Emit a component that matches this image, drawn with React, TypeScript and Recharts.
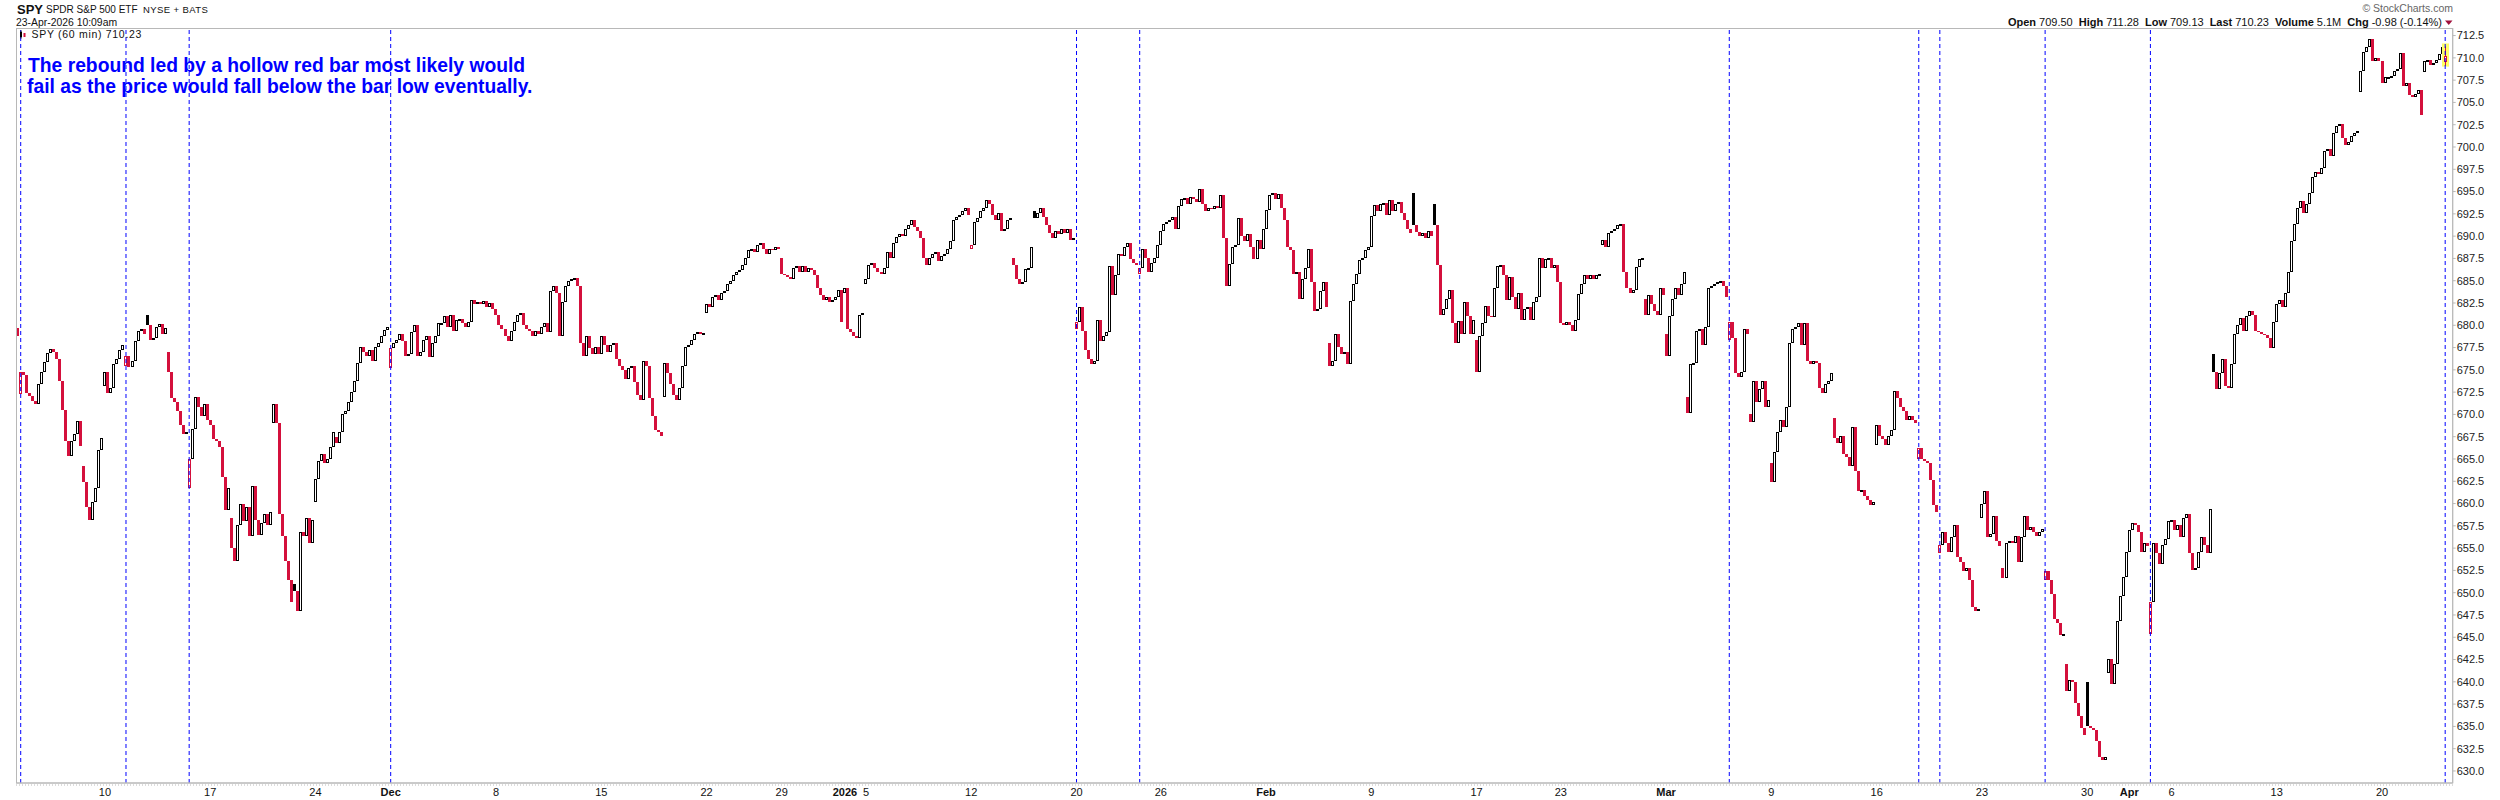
import React from "react";
import { Bar, ComposedChart, ReferenceLine, XAxis, YAxis } from "recharts";

// SPY 60-minute candles. One row per session.
// An open of null means the session opened at the prior close.
const sessionDates = [
  "2025-11-03", "2025-11-04", "2025-11-05", "2025-11-06", "2025-11-07",
  "2025-11-10", "2025-11-11", "2025-11-12", "2025-11-13", "2025-11-14",
  "2025-11-17", "2025-11-18", "2025-11-19", "2025-11-20", "2025-11-21",
  "2025-11-24", "2025-11-25", "2025-11-26", "2025-11-28",
  "2025-12-01", "2025-12-02", "2025-12-03", "2025-12-04", "2025-12-05",
  "2025-12-08", "2025-12-09", "2025-12-10", "2025-12-11", "2025-12-12",
  "2025-12-15", "2025-12-16", "2025-12-17", "2025-12-18", "2025-12-19",
  "2025-12-22", "2025-12-23", "2025-12-24", "2025-12-26",
  "2025-12-29", "2025-12-30", "2025-12-31", "2026-01-02",
  "2026-01-05", "2026-01-06", "2026-01-07", "2026-01-08", "2026-01-09",
  "2026-01-12", "2026-01-13", "2026-01-14", "2026-01-15", "2026-01-16",
  "2026-01-20", "2026-01-21", "2026-01-22", "2026-01-23",
  "2026-01-26", "2026-01-27", "2026-01-28", "2026-01-29", "2026-01-30",
  "2026-02-02", "2026-02-03", "2026-02-04", "2026-02-05", "2026-02-06",
  "2026-02-09", "2026-02-10", "2026-02-11", "2026-02-12", "2026-02-13",
  "2026-02-17", "2026-02-18", "2026-02-19", "2026-02-20",
  "2026-02-23", "2026-02-24", "2026-02-25", "2026-02-26", "2026-02-27",
  "2026-03-02", "2026-03-03", "2026-03-04", "2026-03-05", "2026-03-06",
  "2026-03-09", "2026-03-10", "2026-03-11", "2026-03-12", "2026-03-13",
  "2026-03-16", "2026-03-17", "2026-03-18", "2026-03-19", "2026-03-20",
  "2026-03-23", "2026-03-24", "2026-03-25", "2026-03-26", "2026-03-27",
  "2026-03-30", "2026-03-31", "2026-04-01", "2026-04-02",
  "2026-04-06", "2026-04-07", "2026-04-08", "2026-04-09", "2026-04-10",
  "2026-04-13", "2026-04-14", "2026-04-15", "2026-04-16", "2026-04-17",
  "2026-04-20", "2026-04-21", "2026-04-22", "2026-04-23",
];

const sessionOpens: (number | null)[] = [
  679.7, 672.3, null, null, 664.2,
  673.2, 675.4, 681.2, 677.0, 661.8,
  null, 658.4, null, 669.0, 651.0,
  660.2, 667.5, null, null,
  675.2, null, null, null, null,
  null, null, null, null, null,
  null, null, null, 672.0, null,
  681.4, null, null, null,
  687.6, null, null, 683.6,
  684.6, null, null, null, null,
  688.6, null, 687.6, 692.8, null,
  679.6, null, null, 685.8,
  null, null, null, null, null,
  null, null, null, 678.0, null,
  null, null, 694.8, 693.6, null,
  678.4, null, null, null,
  null, null, 689.0, null, 683.0,
  679.0, 672.0, null, 678.4, 670.0,
  664.6, null, null, 669.6, null,
  666.6, null, 665.0, 654.4, null,
  658.4, 652.8, null, 651.4, 642.0,
  640.0, 641.0, null, 645.4,
  null, null, 676.8, null, null,
  null, null, null, null, 706.2,
  null, null, 708.4, 709.5,
];

const hourlyCloses: number[][] = [
  [678.8],
  [674.8, 674.4, 672.4, 672.1, 671.5, 671.2, 673.4],
  [674.8, 675.9, 676.9, 677.3, 677.0, 676.2, 673.7],
  [670.5, 667.0, 665.3, 667.0, 667.8, 669.3, 666.5],
  [662.4, 659.6, 658.2, 660.2, 661.8, 666.0, 667.3],
  [674.8, 672.4, 673.0, 675.6, 676.2, 677.2, 677.8],
  [676.6, 675.3, 676.0, 678.2, 679.4, 679.6, 679.0],
  [680.0, 678.4, 678.6, 679.8, 680.1, 679.0, 679.7],
  [674.8, 671.8, 671.4, 670.4, 668.8, 667.8, 668.0],
  [665.0, 668.4, 672.0, 670.8, 669.8, 671.2, 669.4],
  [668.8, 667.2, 667.0, 666.4, 663.0, 659.3, 661.8],
  [655.0, 653.6, 657.6, 660.0, 658.0, 659.6, 656.4],
  [662.0, 658.2, 656.5, 657.8, 658.8, 657.6, 659.0],
  [671.2, 669.0, 658.8, 656.4, 653.6, 651.4, 648.9],
  [650.2, 648.0, 656.8, 656.4, 658.4, 655.6, 658.2],
  [662.8, 664.8, 665.6, 664.6, 665.0, 666.4, 668.0],
  [666.8, 668.0, 670.0, 670.4, 671.4, 672.5, 673.8],
  [675.8, 677.6, 677.0, 676.6, 677.2, 676.0, 677.6],
  [678.0, 678.8, 679.5, 679.8],
  [677.4, 678.0, 678.3, 679.0, 678.2, 676.6, 676.8],
  [679.2, 680.0, 676.6, 677.0, 678.4, 678.8, 676.4],
  [678.0, 678.8, 680.2, 680.3, 681.0, 679.8, 681.2],
  [679.4, 680.6, 680.7, 680.2, 679.8, 680.4, 682.8],
  [682.4, 682.6, 682.4, 682.7, 682.0, 682.5, 681.8],
  [681.2, 680.0, 679.6, 678.8, 678.2, 679.4, 680.4],
  [681.2, 681.4, 680.0, 679.6, 679.4, 678.8, 679.4],
  [679.0, 679.8, 680.2, 679.2, 683.8, 684.4, 683.6],
  [678.8, 682.6, 684.4, 685.0, 685.2, 685.3, 684.4],
  [678.0, 676.6, 678.8, 677.4, 676.8, 677.6, 676.8],
  [678.8, 677.8, 677.0, 677.8, 678.0, 676.2, 675.4],
  [675.0, 674.0, 675.2, 675.4, 673.6, 672.2, 671.6],
  [676.0, 675.4, 671.8, 669.8, 668.2, 668.0, 667.6],
  [675.8, 674.6, 673.4, 672.2, 671.6, 673.0, 675.4],
  [677.6, 677.8, 678.4, 679.0, 679.2, 679.0, 679.1],
  [682.4, 682.0, 683.2, 683.4, 682.8, 683.6, 683.8],
  [684.6, 685.0, 685.6, 686.0, 686.2, 686.8, 687.6],
  [688.4, 688.6, 688.2, 689.0],
  [689.2, 688.6, 688.0, 688.6, 688.4, 688.8, 688.6],
  [685.8, 685.6, 685.4, 685.2, 686.4, 686.6, 686.0],
  [686.6, 686.0, 686.4, 686.2, 685.6, 684.2, 683.4],
  [682.8, 683.2, 682.6, 682.8, 683.2, 684.0, 680.4],
  [684.2, 679.6, 679.2, 678.8, 678.6, 681.2, 681.4],
  [685.2, 686.8, 687.0, 686.4, 686.0, 685.8, 686.4],
  [688.2, 687.6, 689.2, 689.9, 690.2, 690.0, 690.8],
  [691.2, 691.8, 691.0, 690.6, 689.8, 687.6, 686.8],
  [687.6, 688.0, 688.2, 687.2, 687.8, 688.0, 688.6],
  [689.4, 691.8, 692.2, 692.4, 692.8, 693.2, 692.4],
  [689.0, 691.6, 692.0, 692.8, 693.2, 694.0, 693.6],
  [692.4, 691.8, 692.6, 690.6, 690.8, 691.8, 692.0],
  [686.8, 685.2, 684.6, 684.8, 686.3, 686.4, 688.8],
  [692.0, 692.6, 693.2, 692.2, 691.2, 690.4, 689.8],
  [690.6, 690.2, 690.8, 690.4, 690.8, 689.6, 689.8],
  [680.4, 682.0, 679.4, 677.2, 676.2, 675.6, 676.0],
  [680.6, 678.2, 678.8, 679.2, 686.6, 683.4, 685.6],
  [688.0, 687.8, 688.8, 689.2, 687.4, 687.0, 686.8],
  [686.4, 688.6, 687.6, 686.0, 687.0, 687.6, 689.0],
  [690.6, 691.4, 691.6, 691.8, 692.2, 690.8, 693.4],
  [694.2, 694.3, 693.6, 694.4, 694.2, 693.8, 695.3],
  [693.6, 692.8, 693.2, 693.0, 693.4, 693.2, 694.6],
  [689.8, 684.4, 686.9, 688.8, 689.0, 692.0, 690.0],
  [689.4, 690.2, 688.8, 687.4, 689.6, 688.6, 690.8],
  [692.9, 694.6, 694.8, 694.2, 694.7, 693.2, 691.8],
  [688.8, 688.4, 685.8, 686.0, 683.0, 685.2, 686.4],
  [688.6, 684.8, 681.6, 681.8, 683.8, 684.8, 682.0],
  [675.4, 676.0, 679.0, 677.6, 676.8, 677.0, 675.6],
  [682.7, 684.6, 685.8, 687.3, 687.6, 688.4, 688.8],
  [692.3, 693.5, 692.8, 693.6, 693.7, 692.4, 694.0],
  [692.8, 693.6, 693.8, 692.6, 691.8, 690.8, 690.4],
  [691.2, 690.5, 690.0, 690.4, 689.8, 690.6, 690.0],
  [691.2, 686.8, 681.2, 681.8, 683.0, 684.0, 680.2],
  [678.0, 680.5, 679.0, 682.6, 681.0, 679.0, 680.6],
  [674.8, 678.8, 680.2, 682.2, 681.0, 680.9, 684.2],
  [686.7, 686.8, 685.6, 682.8, 685.4, 683.2, 681.8],
  [683.6, 680.6, 681.8, 682.0, 680.6, 682.6, 683.2],
  [687.5, 686.4, 687.4, 687.6, 686.4, 686.8, 684.8],
  [680.2, 680.0, 680.4, 680.0, 679.4, 680.6, 683.5],
  [684.6, 685.6, 685.2, 685.6, 685.2, 685.6, 685.7],
  [689.6, 688.8, 690.4, 690.6, 690.8, 691.2, 691.4],
  [686.0, 684.2, 683.6, 684.0, 686.5, 687.4, 687.6],
  [681.2, 683.4, 682.4, 681.6, 681.2, 684.2, 683.4],
  [676.6, 681.0, 683.0, 684.2, 683.4, 684.6, 686.0],
  [670.2, 675.6, 675.8, 679.4, 679.6, 677.8, 679.8],
  [684.2, 684.4, 684.6, 684.8, 685.0, 684.4, 683.2],
  [680.4, 678.6, 674.6, 674.2, 674.8, 679.6, 679.0],
  [669.2, 673.8, 671.4, 672.8, 673.8, 670.8, 671.6],
  [662.4, 665.8, 668.0, 669.4, 668.6, 670.8, 678.0],
  [679.6, 679.8, 680.2, 677.8, 680.3, 676.0, 675.6],
  [676.0, 675.8, 673.0, 672.4, 673.4, 673.8, 674.6],
  [667.4, 666.8, 667.6, 665.6, 665.2, 664.2, 668.6],
  [663.6, 661.4, 661.5, 660.8, 660.4, 659.8, 660.2],
  [668.8, 667.6, 667.2, 666.6, 667.6, 668.2, 672.6],
  [671.8, 670.8, 670.4, 669.4, 669.8, 669.4, 669.0],
  [666.2, 665.0, 664.8, 664.6, 662.6, 659.8, 659.0],
  [655.4, 656.8, 655.6, 654.6, 656.2, 657.6, 654.0],
  [653.4, 652.4, 652.8, 651.4, 648.4, 648.0, 648.2],
  [660.0, 661.4, 656.2, 656.6, 658.6, 655.8, 655.2],
  [651.6, 655.6, 655.8, 655.6, 656.4, 653.4, 656.2],
  [658.6, 657.0, 657.4, 656.8, 656.4, 656.8, 657.2],
  [652.4, 651.4, 649.8, 647.0, 646.6, 645.2, 645.4],
  [639.0, 640.2, 640.0, 637.6, 636.2, 634.8, 634.0],
  [635.0, 634.8, 634.6, 633.4, 631.6, 631.2, 631.6],
  [642.6, 639.8, 642.0, 646.8, 649.6, 651.8, 654.6],
  [657.0, 657.8, 657.6, 656.8, 654.6, 655.6, 655.2],
  [649.0, 655.6, 654.4, 653.2, 655.4, 656.0, 658.0],
  [658.2, 657.0, 657.6, 656.2, 658.4, 658.8, 654.4],
  [652.6, 652.8, 654.6, 656.2, 655.4, 654.4, 659.4],
  [674.8, 672.8, 674.6, 676.2, 673.2, 673.0, 675.6],
  [679.0, 680.0, 680.8, 679.4, 681.0, 681.6, 681.2],
  [679.4, 679.2, 679.0, 678.9, 678.6, 677.4, 680.4],
  [682.4, 682.8, 682.0, 683.6, 686.0, 689.5, 691.4],
  [693.2, 693.9, 692.6, 693.6, 694.8, 696.6, 697.2],
  [697.0, 697.7, 699.6, 699.8, 699.0, 701.6, 702.4],
  [702.6, 701.0, 700.2, 700.6, 701.2, 701.6, 701.8],
  [708.5, 710.7, 711.2, 712.1, 709.6, 710.0, 709.6],
  [707.2, 707.8, 707.9, 708.0, 708.5, 708.8, 710.6],
  [706.8, 707.2, 705.8, 705.6, 705.9, 706.4, 703.6],
  [709.6, 709.8, 709.2, 709.4, 709.8, 710.4, 711.21],
  [710.23],
];

// the bar still forming at 10:09am
const lastBarHigh = 711.28;
const lastBarLow = 709.13;
const lastBarVolume = "5.1M";

// sessions whose first bar is a hollow red bar (blue dashed markers)
const hollowRedDates = [
  "2025-11-04", "2025-11-11", "2025-11-14", "2025-12-01", "2026-01-20", "2026-01-23",
  "2026-03-05", "2026-03-18", "2026-03-19", "2026-03-26", "2026-04-02", "2026-04-23",
];

const axisDates = [
  "2025-11-10", "2025-11-17", "2025-11-24", "2025-12-01", "2025-12-08", "2025-12-15",
  "2025-12-22", "2025-12-29", "2026-01-02", "2026-01-05", "2026-01-12", "2026-01-20",
  "2026-01-26", "2026-02-02", "2026-02-09", "2026-02-17", "2026-02-23", "2026-03-02",
  "2026-03-09", "2026-03-16", "2026-03-23", "2026-03-30", "2026-04-01", "2026-04-06",
  "2026-04-13", "2026-04-20",
];
const axisLabels = [
  "10", "17", "24", "Dec", "8", "15", "22", "29", "2026", "5", "12", "20", "26", "Feb",
  "9", "17", "23", "Mar", "9", "16", "23", "30", "Apr", "6", "13", "20",
];

const priceTicks = [
  630, 632.5, 635, 637.5, 640, 642.5, 645, 647.5, 650, 652.5, 655, 657.5, 660, 662.5, 665,
  667.5, 670, 672.5, 675, 677.5, 680, 682.5, 685, 687.5, 690, 692.5, 695, 697.5, 700,
  702.5, 705, 707.5, 710, 712.5,
];

const FONT = "'Liberation Sans', Arial, Helvetica, sans-serif";
const RED = "#d4103c";
const GRID = "#b8b8b8";

type Row = {
  key: string;
  range?: [number, number];
  open?: number;
  close?: number;
  red?: boolean;
  last?: boolean;
};

const rows: Row[] = [];
let prevClose = sessionOpens[0] ?? hourlyCloses[0][0];
let priorSessionClose = prevClose;
sessionDates.forEach((date, si) => {
  let open = sessionOpens[si] ?? prevClose;
  const closes = hourlyCloses[si];
  if (si === sessionDates.length - 1) priorSessionClose = prevClose;
  closes.forEach((close, k) => {
    const last = si === sessionDates.length - 1 && k === closes.length - 1;
    const hi = last ? lastBarHigh : Math.max(open, close);
    const lo = last ? lastBarLow : Math.min(open, close);
    rows.push({ key: `${date} ${k}`, range: [lo, hi], open, close, red: close < prevClose, last });
    prevClose = close;
    open = close;
  });
});
rows.push({ key: "pad-1" }, { key: "pad-2" });

const lastSession = sessionDates.length - 1;
const lastOpen = sessionOpens[lastSession] as number;
const lastClose = hourlyCloses[lastSession][0];
const chg = lastClose - priorSessionClose;
const chgPct = (chg / priorSessionClose) * 100;

const labelByKey = new Map(axisDates.map((d, i) => [`${d} 0`, axisLabels[i]]));

function Candle(props: any) {
  const { x, width, payload } = props;
  let { y, height } = props;
  if (!payload || !payload.range || x == null) return null;
  if (height < 0) {
    y += height;
    height = -height;
  }
  const [lo, hi] = payload.range as [number, number];
  const ppu = hi > lo ? height / (hi - lo) : 0;
  const c = Math.round(x + width / 2 - 0.5);
  const bodyHi = Math.max(payload.open, payload.close);
  const bodyLo = Math.min(payload.open, payload.close);
  const yTop = y + (hi - bodyHi) * ppu;
  const yBot = y + (hi - bodyLo) * ppu;
  const color = payload.red ? RED : "#000";
  const hollow = payload.close > payload.open;
  return (
    <g>
      {payload.last && (
        <rect x={c - 3} y={y - 3} width={7} height={height + 4} fill="#ffff66" />
      )}
      {(hi > bodyHi || lo < bodyLo) && (
        <line x1={c + 0.5} x2={c + 0.5} y1={y} y2={y + height} stroke={color} strokeWidth={1} />
      )}
      {hollow ? (
        <rect
          x={c - 0.5}
          y={Math.round(yTop) + 0.5}
          width={2}
          height={Math.max(1, Math.round(yBot) - Math.round(yTop) - 1)}
          fill="#fff"
          stroke={color}
          strokeWidth={1}
        />
      ) : (
        <rect
          x={c - 1}
          y={Math.round(yTop)}
          width={3}
          height={Math.max(1, Math.round(yBot) - Math.round(yTop))}
          fill={color}
        />
      )}
    </g>
  );
}

function DateTick(props: any) {
  const { x, y, payload } = props;
  const label = labelByKey.get(payload.value) ?? "";
  const bold = /[A-Za-z]/.test(label) || label.length === 4;
  return (
    <text x={x} y={y + 13} textAnchor="middle" fontSize={11} fontFamily={FONT}
      fontWeight={bold ? 700 : 400} fill="#111">
      {label}
    </text>
  );
}

const quoteParts: [string, string][] = [
  ["Open", lastOpen.toFixed(2)],
  ["High", lastBarHigh.toFixed(2)],
  ["Low", lastBarLow.toFixed(2)],
  ["Last", lastClose.toFixed(2)],
  ["Volume", lastBarVolume],
  ["Chg", `${chg.toFixed(2)} (${chgPct.toFixed(2)}%)`],
];

export default function App() {
  return (
    <div style={{ position: "absolute", left: 0, top: 0, width: 2500, height: 800, background: "#fff" }}>
      <ComposedChart
        width={2500}
        height={800}
        data={rows}
        margin={{ top: 28, right: 0.3, bottom: 0, left: 16.2 }}
        barCategoryGap={0}
        barGap={0}
      >
        <XAxis
          dataKey="key"
          type="category"
          ticks={axisDates.map((d) => `${d} 0`)}
          interval={0}
          tickLine={false}
          tickSize={0}
          tickMargin={0}
          axisLine={{ stroke: GRID }}
          height={17}
          tick={<DateTick />}
        />
        <YAxis
          orientation="right"
          width={47}
          domain={[628.65, 713.35]}
          allowDataOverflow
          ticks={priceTicks}
          interval={0}
          tickSize={3}
          tickMargin={1}
          axisLine={{ stroke: GRID }}
          tickLine={{ stroke: GRID }}
          tick={{ fontSize: 11, fill: "#222", fontFamily: FONT }}
          tickFormatter={(v: number) => v.toFixed(1)}
        />
        <Bar dataKey="range" shape={<Candle />} isAnimationActive={false} />
        {hollowRedDates.map((d) => (
          <ReferenceLine key={d} x={`${d} 0`} stroke="#0000ff" strokeWidth={1} strokeDasharray="4 3" />
        ))}
      </ComposedChart>

      <svg
        width={2500}
        height={800}
        style={{ position: "absolute", left: 0, top: 0, pointerEvents: "none" }}
        fontFamily={FONT}
      >
        <rect x={16.5} y={28.5} width={2436.2} height={754.5} fill="none" stroke={GRID} />
        <line x1={16} x2={2453} y1={785} y2={785} stroke={GRID} strokeDasharray="1 2" />

        <text x={17} y={13.5} fontSize={13} fontWeight={700} fill="#111">SPY</text>
        <text x={46} y={12.5} fontSize={10} fill="#111">SPDR S&amp;P 500 ETF</text>
        <text x={143} y={12.5} fontSize={9.5} fill="#111" letterSpacing={0.4}>NYSE + BATS</text>
        <text x={16} y={25.5} fontSize={10.4} fill="#111">23-Apr-2026 10:09am</text>

        <text x={2453} y={12} fontSize={10.5} fill="#666" textAnchor="end">© StockCharts.com</text>
        <text x={2442} y={26} fontSize={11} fill="#111" textAnchor="end">
          {quoteParts.map(([label, value], i) => (
            <React.Fragment key={label}>
              <tspan dx={i === 0 ? 0 : 6} fontWeight={700}>{label}</tspan>
              <tspan dx={3}>{value}</tspan>
            </React.Fragment>
          ))}
        </text>
        <path d="M2445,20.5 L2452.5,20.5 L2448.75,25 Z" fill="#a0103c" />

        <rect x={20} y={32} width={2} height={5} fill="#000" />
        <line x1={21} x2={21} y1={30.5} y2={38.5} stroke="#000" />
        <rect x={23.5} y={33} width={2} height={4} fill={RED} />
        <text x={31.5} y={38.3} fontSize={10.5} fill="#111" letterSpacing={0.7}>
          SPY (60 min) {lastClose.toFixed(2)}
        </text>

        <text x={28} y={71.7} fontSize={19.3} fontWeight={700} fill="#0000ff">
          The rebound led by a hollow red bar most likely would
        </text>
        <text x={27} y={93.3} fontSize={19.3} fontWeight={700} fill="#0000ff">
          fail as the price would fall below the bar low eventually.
        </text>
      </svg>
    </div>
  );
}
